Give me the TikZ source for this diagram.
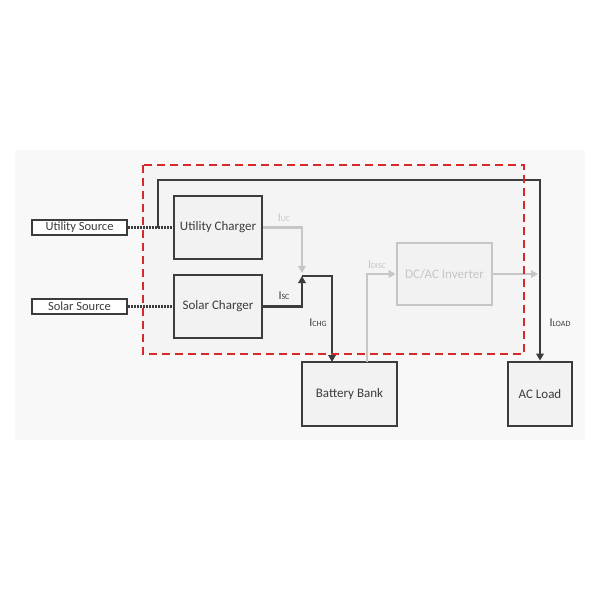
\documentclass[tikz,border=0pt]{standalone}
\usepackage{fontspec}
\setmainfont{Carlito}
\usetikzlibrary{arrows.meta}
\definecolor{dk}{HTML}{3C3C3C}
\definecolor{lg}{HTML}{C6C6C6}
\definecolor{bg}{HTML}{F8F8F8}
\definecolor{bx}{HTML}{F2F2F2}
\definecolor{rd}{HTML}{D42A2A}
\tikzset{
  blk/.style={draw=dk, line width=2.8pt, fill=bx, text=dk, minimum width=88pt, minimum height=63pt, inner sep=0pt, font=\fontsize{13}{15}\selectfont},
  src/.style={draw=dk, line width=2.8pt, fill=white, text=dk, minimum width=95pt, minimum height=15pt, inner sep=0pt, font=\fontsize{12.5}{14}\selectfont},
  ghost/.style={draw=lg, line width=2.6pt, fill=bx, text=lg, minimum width=95pt, minimum height=62pt, inner sep=0pt, font=\fontsize{13}{15}\selectfont},
  dkline/.style={draw=dk, line width=2.8pt},
  ltline/.style={draw=lg, line width=2.6pt},
  dotl/.style={draw=dk, line width=2.6pt, dash pattern=on 2pt off 1pt},
  lbl/.style={font=\fontsize{12}{13}\selectfont, inner sep=0pt},
  tipd/.style={-{Triangle[length=7pt,width=7.5pt]}},
}
\newcommand{\smc}[1]{{\fontsize{8}{9}\selectfont #1}}
\begin{document}
\begin{tikzpicture}[x=1pt,y=-1pt]
\useasboundingbox (0,0) rectangle (600,600);
\fill[bg] (15,150) rectangle (585,440);
\fill[bx!60!bg] (143,165) rectangle (524,354);
% nodes
\node[src] (us) at (79.5,227.5) {Utility Source};
\node[src] (ss) at (79.5,306.5) {Solar Source};
\node[blk] (uc) at (218,227.5) {Utility Charger};
\node[blk] (sc) at (218,306.5) {Solar Charger};
\node[ghost] (inv) at (444.5,274) {DC/AC Inverter};
\node[blk, minimum width=95pt, minimum height=64pt] (bb) at (349.5,394) {Battery Bank};
\node[blk, minimum width=64pt, minimum height=64pt] (ac) at (540,394) {AC Load};
% coordinates
\coordinate (j) at (302,276);
\coordinate (tap) at (158,227.5);
% dotted source links
\draw[dotl] (us.east) -- (uc.west);
\draw[dotl] (ss.east) -- (sc.west);
% bypass to AC load
\draw[dkline, tipd] (tap) -- (158,180) -- (540,180) -- (ac.north);
% Iuc gray
\draw[ltline, tipd] (uc.east) -| (302,273);
% Isc dark
\draw[dkline, tipd] (sc.east) -| (j);
% Ichg
\draw[dkline, tipd] (j) -- (332,276) -- (332,362);
% Idisc gray
\draw[ltline, tipd] (367,362) -- (367,274) -- (inv.west);
% inverter output
\draw[ltline, tipd] (inv.east) -- (538,274);
% red dashed frame
\draw[rd, line width=2.6pt, dash pattern=on 8pt off 5pt] (143,165) rectangle (524,354);
% labels
\node[lbl, text=lg] (luc) at (284,218) {I\smc{UC}};
\node[lbl, text=dk] (lsc) at (284,296) {I\smc{SC}};
\node[lbl, text=dk] (lchg) at (318,323) {I\smc{CHG}};
\node[lbl, text=lg] (ldisc) at (377,265) {I\smc{DISC}};
\node[lbl, text=dk] (lload) at (560,323) {I\smc{LOAD}};
\end{tikzpicture}
\end{document}
